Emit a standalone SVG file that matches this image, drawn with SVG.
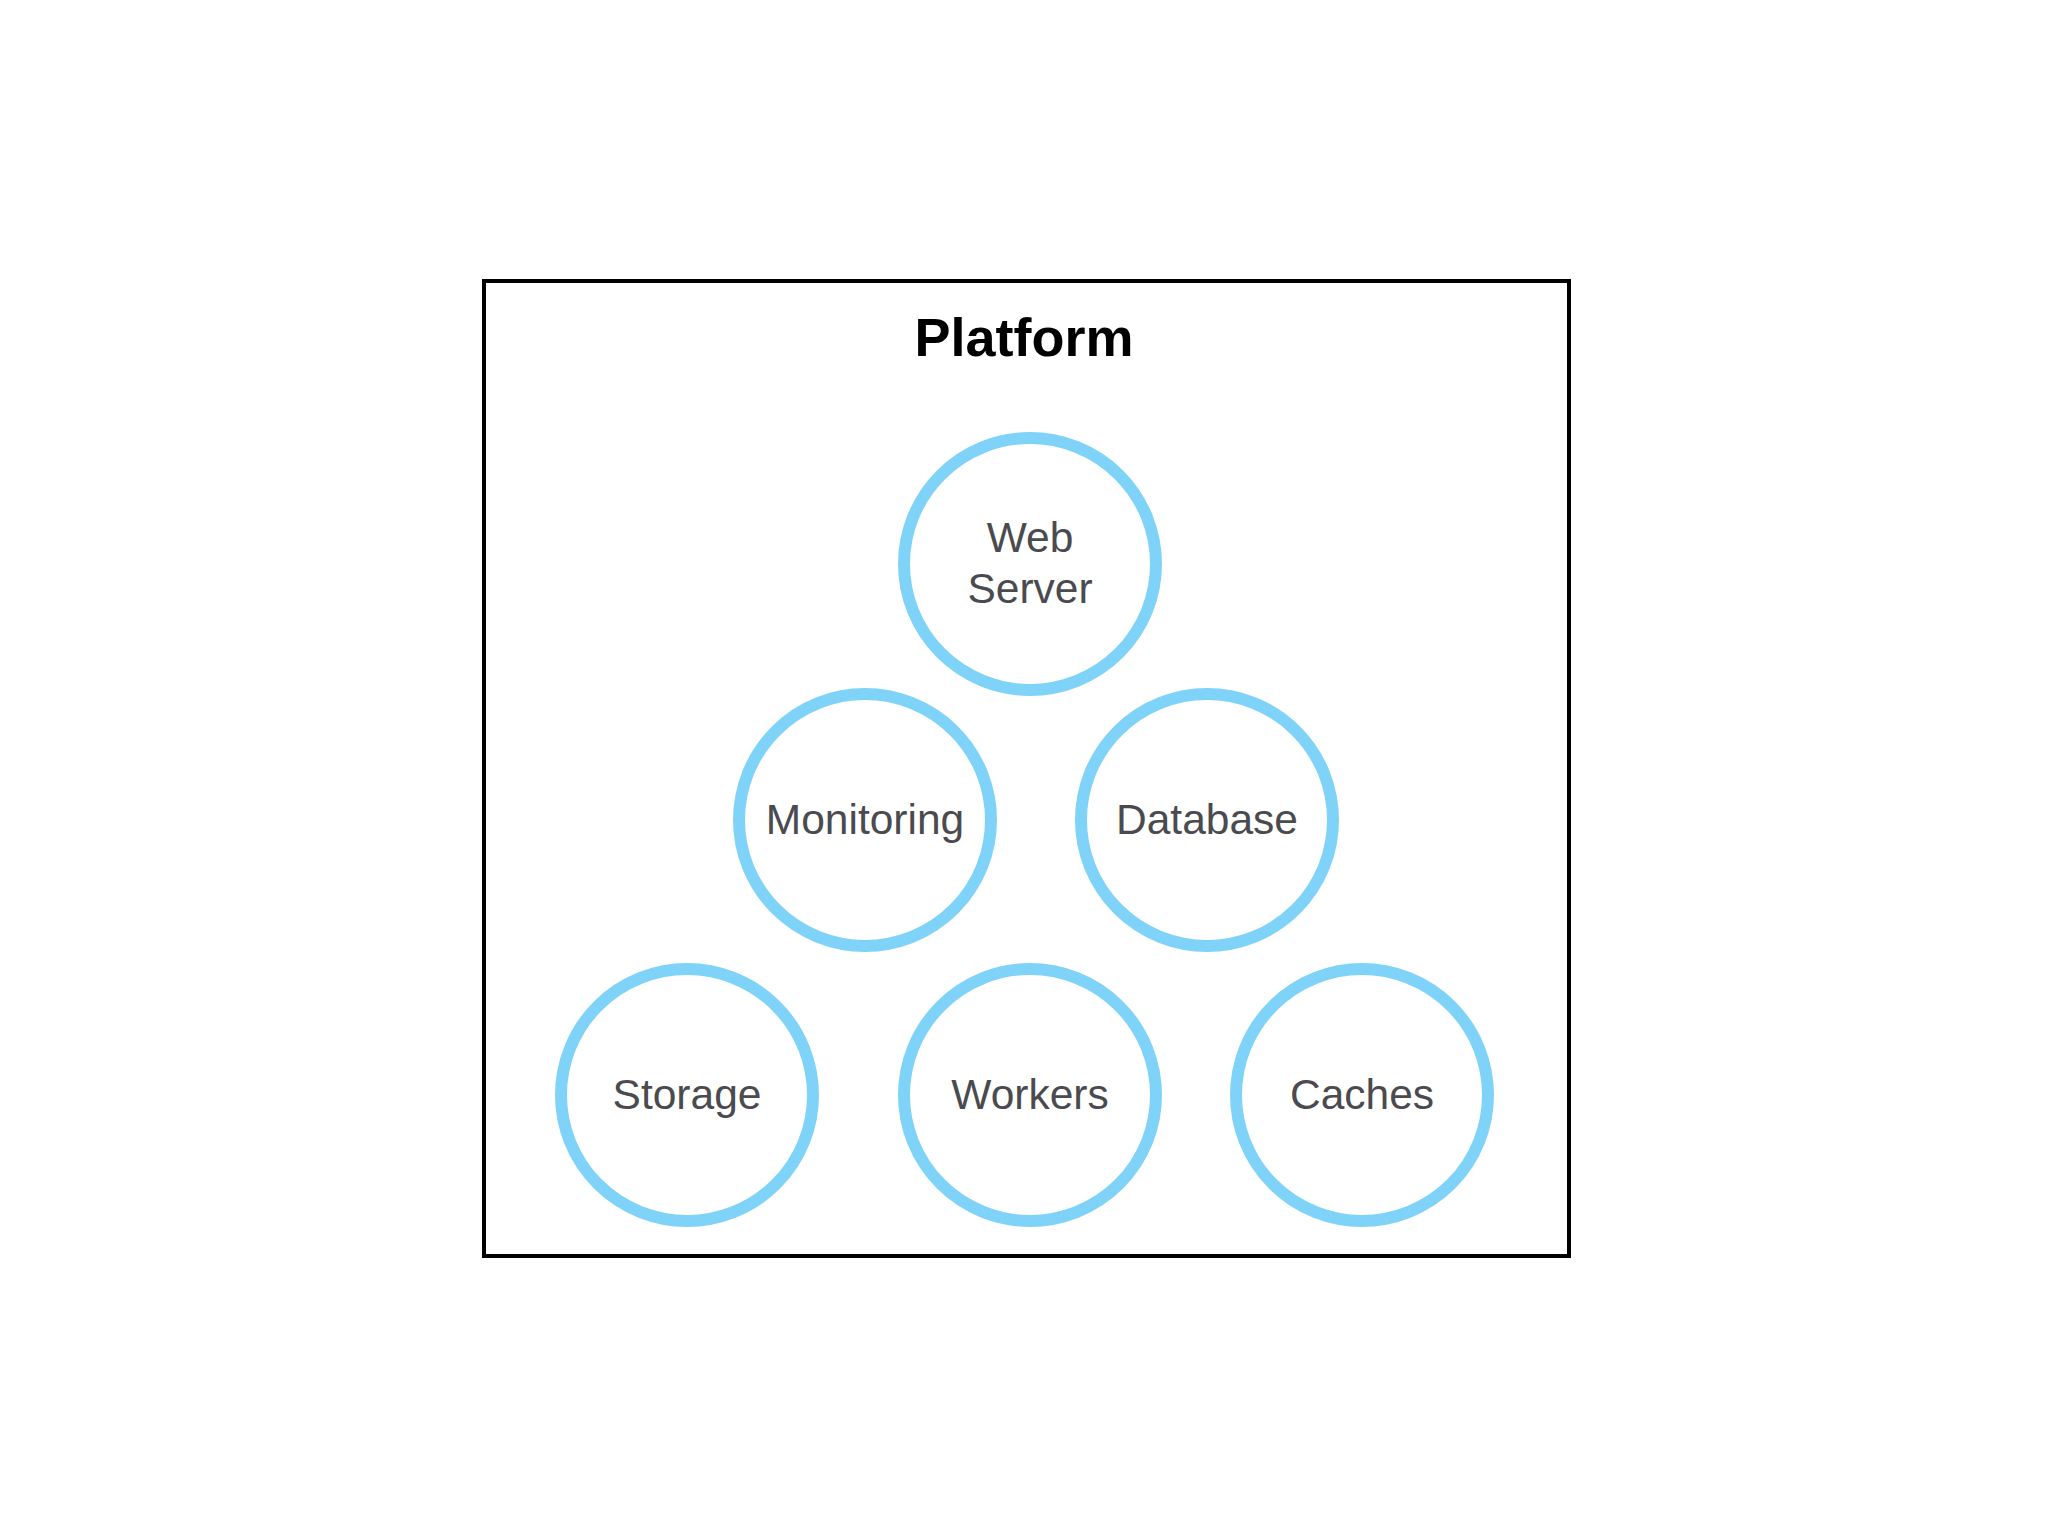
<svg xmlns="http://www.w3.org/2000/svg" width="2048" height="1536" viewBox="0 0 2048 1536">
<style>
.bg{fill:#ffffff}
.frame{fill:none;stroke:#000000;stroke-width:4}
.title{font-family:"Liberation Sans",Arial,sans-serif;font-weight:bold;font-size:54px;fill:#000000;text-anchor:middle}
.node circle{fill:#ffffff;stroke:#7fd3f8;stroke-width:12}
.node text{font-family:"Liberation Sans",Arial,sans-serif;font-size:42.5px;fill:#4a4a4f;text-anchor:middle}
</style>
<rect class="bg" x="0" y="0" width="2048" height="1536"/>
<g id="platform">
<rect class="frame" x="484" y="281" width="1085" height="975"/>
<text class="title" x="1024" y="356">Platform</text>
</g>
<g id="connectors"></g>
<g id="web-server" class="node">
<circle cx="1030" cy="564" r="126"/>
<text x="1030" y="552">Web</text>
<text x="1030" y="603">Server</text>
</g>
<g id="monitoring" class="node">
<circle cx="865" cy="820" r="126"/>
<text x="865" y="834">Monitoring</text>
</g>
<g id="database" class="node">
<circle cx="1207" cy="820" r="126"/>
<text x="1207" y="834">Database</text>
</g>
<g id="storage" class="node">
<circle cx="687" cy="1095" r="126"/>
<text x="687" y="1109">Storage</text>
</g>
<g id="workers" class="node">
<circle cx="1030" cy="1095" r="126"/>
<text x="1030" y="1109">Workers</text>
</g>
<g id="caches" class="node">
<circle cx="1362" cy="1095" r="126"/>
<text x="1362" y="1109">Caches</text>
</g>
</svg>
